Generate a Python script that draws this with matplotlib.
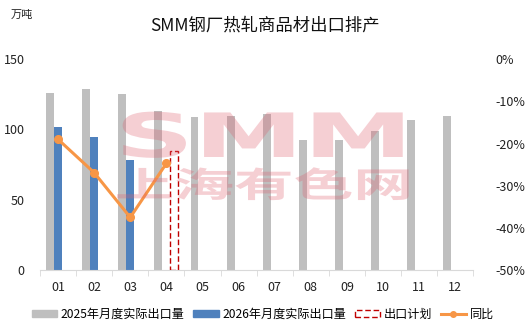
import numpy as np
import matplotlib
matplotlib.use("Agg")
import matplotlib.pyplot as plt
from matplotlib.patches import Rectangle
from matplotlib.lines import Line2D
from matplotlib.ticker import FuncFormatter
from matplotlib.patheffects import AbstractPathEffect
from matplotlib.transforms import Affine2D

plt.rcParams['font.family'] = ['Noto Sans CJK SC', 'DejaVu Sans']

months = ['01', '02', '03', '04', '05', '06', '07', '08', '09', '10', '11', '12']
export_2025 = [126, 128.5, 125.3, 113, 108.7, 109.4, 111, 92.6, 92.6, 98.8, 106.6, 109.4]
export_2026 = [101.6, 94.5, 78.2]
plan_2026 = {3: 85}          # month index -> planned volume
yoy = [-19.0, -26.9, -37.5, -24.7]

c_gray = '#BFBFBF'
c_blue = '#4F81BD'
c_orange = '#F79646'
c_red = '#C00000'


class StretchX(AbstractPathEffect):
    # widen the glyphs around a vertical line (display x), text stays text
    def __init__(self, sx, cx):
        super().__init__()
        self.sx = sx
        self.cx = cx

    def draw_path(self, renderer, gc, tpath, affine, rgbFace=None):
        aff = affine + Affine2D().translate(-self.cx, 0).scale(self.sx, 1).translate(self.cx, 0)
        renderer.draw_path(gc, tpath, aff, rgbFace)


fig = plt.figure(figsize=(5.31, 3.36), dpi=100)
ax = fig.add_axes([0.0753, 0.196, 0.816, 0.628])
x = np.arange(len(months))
w = 0.22

ax.bar(x - w, export_2025, width=w, color=c_gray, zorder=2)
ax.bar(x[:len(export_2026)], export_2026, width=w, color=c_blue, zorder=2)
for i, v in plan_2026.items():
    ax.bar(i + w, v, width=w, facecolor='none', edgecolor=c_red,
           linestyle=(0, (4, 2)), linewidth=1.0, zorder=2)

ax.set_xlim(-0.5, len(months) - 0.5)
ax.set_ylim(0, 150)
ax.set_yticks([0, 50, 100, 150])
ax.set_xticks(x)
ax.set_xticklabels(months)
ax.set_xticks(np.arange(-0.5, len(months)), minor=True)
ax.tick_params(axis='x', which='major', length=0, pad=8, labelsize=9, colors='#222222')
ax.tick_params(axis='x', which='minor', length=4, color='#D9D9D9')
ax.tick_params(axis='y', length=0, labelsize=9, colors='#222222', pad=11)
for s in ['top', 'left', 'right']:
    ax.spines[s].set_visible(False)
ax.spines['bottom'].set_color('#D9D9D9')

ax2 = ax.twinx()
ax2.plot(x[:len(yoy)], yoy, color=c_orange, linewidth=2.2, marker='o',
         markersize=5.5, zorder=4)
ax2.set_ylim(-50, 0)
ax2.set_yticks([0, -10, -20, -30, -40, -50])
ax2.yaxis.set_major_formatter(FuncFormatter(lambda v, p: f'{int(round(v))}%'))
ax2.tick_params(axis='y', length=0, labelsize=9, colors='#222222', pad=16)
for s in ['top', 'left', 'right', 'bottom']:
    ax2.spines[s].set_visible(False)

# watermark (stretched logo text)
wm_x = 0.497
cx_px = wm_x * fig.get_figwidth() * fig.dpi
fig.text(wm_x, 1 - 157 / 336, 'SMM', fontsize=44, fontweight='bold', color='#E06070',
         alpha=0.3, ha='center', va='baseline', family='DejaVu Sans', zorder=10,
         path_effects=[StretchX(1.8, cx_px)])
fig.text(wm_x, 1 - 197 / 336, '上海有色网', fontsize=25, fontweight='bold',
         color='#E06070', alpha=0.3, ha='center', va='baseline', zorder=10,
         path_effects=[StretchX(1.72, cx_px)])

fig.text(0.5, 0.925, 'SMM钢厂热轧商品材出口排产', fontsize=12.5, ha='center',
         va='center', color='#111111')
fig.text(0.02, 0.955, '万吨', fontsize=8, ha='left', va='center', color='#222222')

handles = [
    Rectangle((0, 0), 1, 1, color=c_gray),
    Rectangle((0, 0), 1, 1, color=c_blue),
    Rectangle((0, 0), 1, 1, facecolor='none', edgecolor=c_red,
              linestyle=(0, (4, 2)), linewidth=1.0),
    Line2D([0], [0], color=c_orange, linewidth=2.2, marker='o', markersize=4),
]
labels = ['2025年月度实际出口量', '2026年月度实际出口量', '出口计划', '同比']
fig.legend(handles, labels, loc='center', bbox_to_anchor=(0.495, 0.065), ncol=4,
           frameon=False, fontsize=8.7, handlelength=2.1, handleheight=0.6,
           columnspacing=0.7, handletextpad=0.3)

fig.savefig('out.png', dpi=100)
